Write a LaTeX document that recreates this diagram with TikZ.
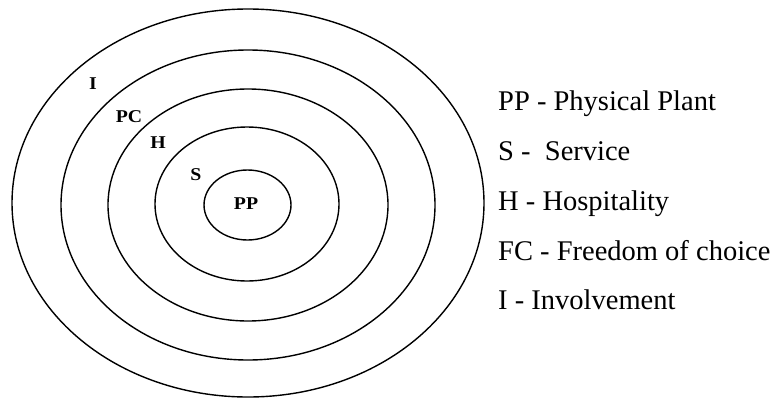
\documentclass[tikz,border=0pt]{standalone}
\usepackage{fontspec}
\setmainfont{Liberation Serif}
\tikzset{
  ring/.style={draw=black, line width=1.4pt},
  ringlabel/.style={font=\fontsize{18}{21}\selectfont\bfseries, inner sep=0pt, xscale=1.1},
  legend/.style={font=\fontsize{28.5}{34}\selectfont, anchor=base west, inner sep=0pt}
}
\begin{document}
\begin{tikzpicture}[x=1pt, y=-1pt]
  \useasboundingbox (0,0) rectangle (782,399);
  % concentric rings
  \draw[ring] (248,203) ellipse [x radius=236, y radius=194];
  \draw[ring] (248,205) ellipse [x radius=187, y radius=155];
  \draw[ring] (248,205) ellipse [x radius=140, y radius=116];
  \draw[ring] (247,204) ellipse [x radius=92, y radius=77];
  \draw[ring] (247.5,205) ellipse [x radius=43.5, y radius=35];
  % ring labels
  \node[ringlabel] (lI)  at (93,84)    {I};
  \node[ringlabel] (lPC) at (129,117)  {PC};
  \node[ringlabel] (lH)  at (158,143)  {H};
  \node[ringlabel] (lS)  at (196,175)  {S};
  \node[ringlabel] (lPP) at (246,204)  {PP};
  % legend
  \node[legend] (kPP) at (498,110) {PP - Physical Plant};
  \node[legend] (kS)  at (498,160) {S - \ Service};
  \node[legend] (kH)  at (498,210) {H - Hospitality};
  \node[legend] (kFC) at (498,260) {FC - Freedom of choice};
  \node[legend] (kI)  at (498,309) {I - Involvement};
\end{tikzpicture}
\end{document}
